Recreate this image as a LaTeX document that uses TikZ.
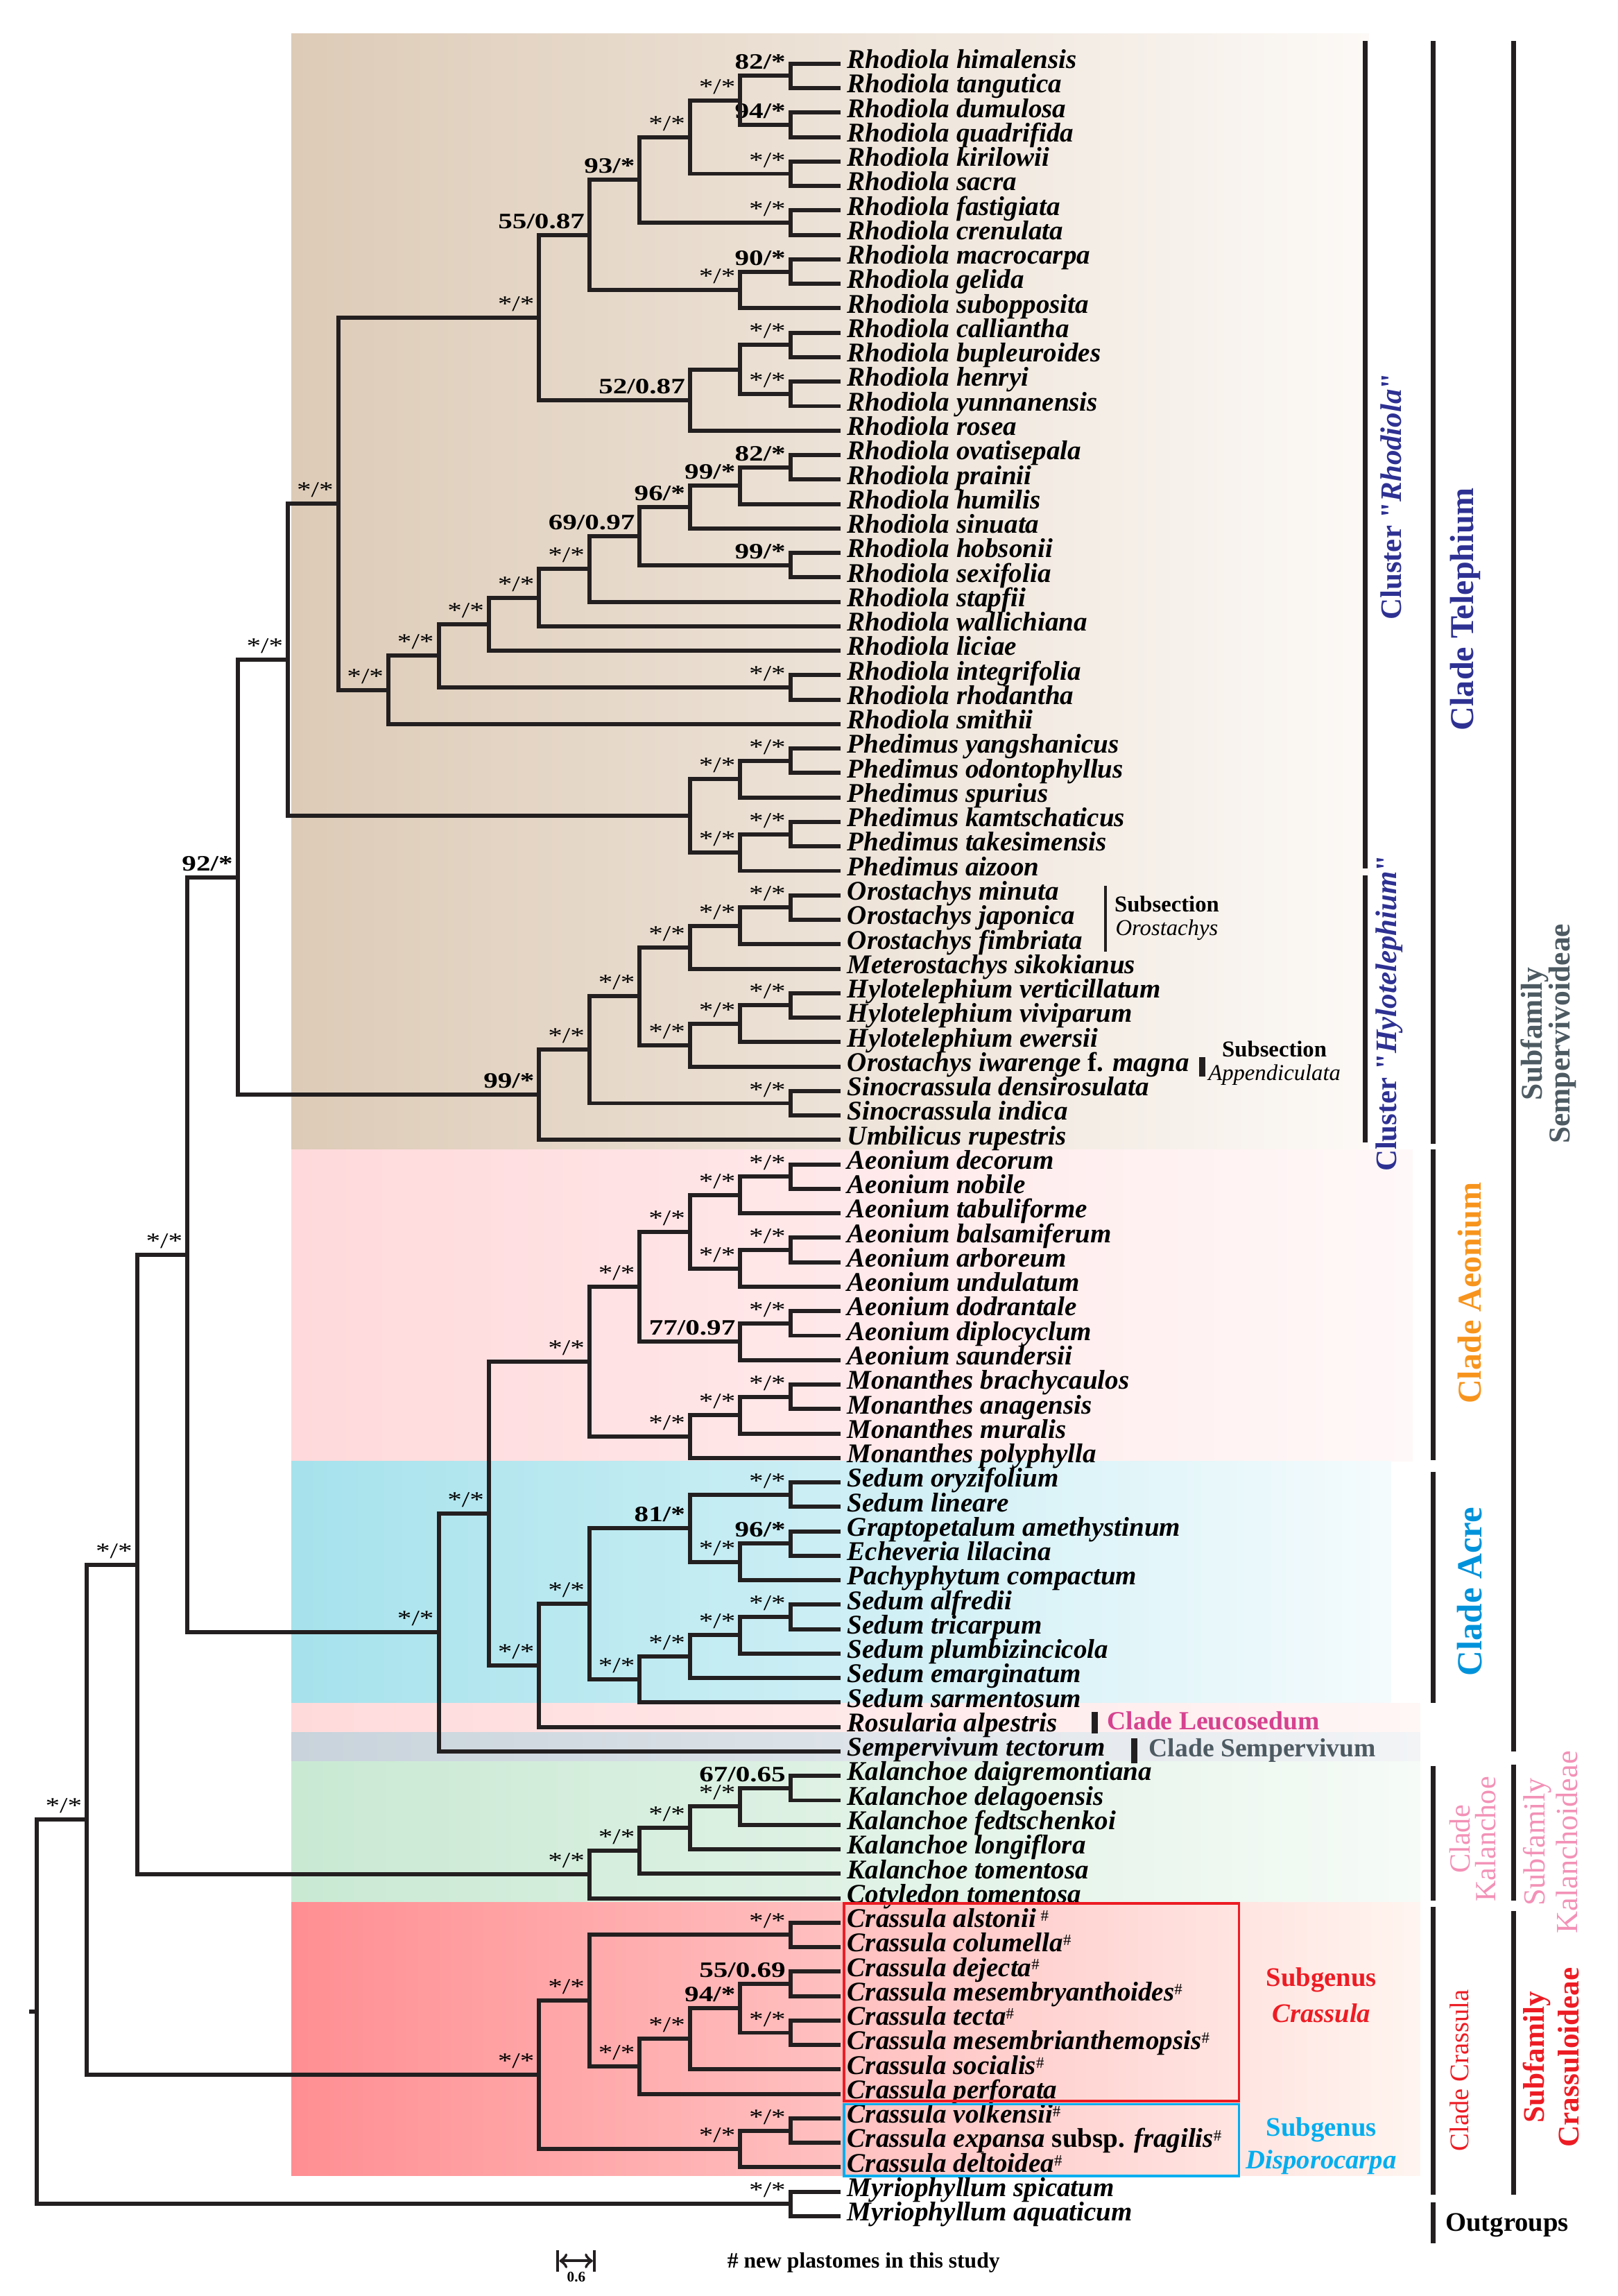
\documentclass[tikz,border=0pt]{standalone}
\usepackage{fontspec}
\setmainfont{Liberation Serif}
\newfontfamily\suppfont[FakeStretch=1.3]{Liberation Serif}
\usetikzlibrary{calc}

\definecolor{treeline}{HTML}{231F20}
\definecolor{telblue}{HTML}{2E3192}
\definecolor{aeoorange}{HTML}{F7941D}
\definecolor{acreblue}{HTML}{0092DA}
\definecolor{leupink}{HTML}{D6428F}
\definecolor{semgray}{HTML}{4D5A62}
\definecolor{kalpink}{HTML}{F391B6}
\definecolor{crared}{HTML}{ED1C24}
\definecolor{dispblue}{HTML}{00AEEF}

\tikzset{
  branch/.style={line width=1.7pt, draw=treeline},
  taxon/.style={anchor=base west, inner sep=0pt, font=\bfseries\itshape\fontsize{11.1}{11}\selectfont},
  supp/.style={anchor=base east, inner sep=0pt, font=\suppfont\fontsize{9}{9}\selectfont},
  bracket/.style={line width=2pt, draw=treeline},
  cladelab/.style={rotate=90, inner sep=0pt, font=\bfseries\fontsize{13.7}{14}\selectfont},
  clusterlab/.style={rotate=90, inner sep=0pt, text=telblue, font=\bfseries\fontsize{12.2}{13}\selectfont},
  famlab/.style={rotate=90, inner sep=0pt, align=center, font=\bfseries\fontsize{12.4}{12.5}\selectfont},
  sidelab/.style={inner sep=0pt, font=\bfseries\fontsize{11}{11}\selectfont},
}

\newcommand{\hash}{\raisebox{2.6pt}{\mdseries\upshape\fontsize{6.5}{6.5}\selectfont\#}}
% leaf: index, name, text
\newcommand{\tx}[3]{%
  \coordinate (#2) at (574.3,{43.5+(#1-1)*16.7045});
  \node[taxon] (#2-n) at (578.5,{46.7+(#1-1)*16.7045}) {#3};}
% clade: name, level, child, child, support
\newcommand{\clade}[5]{%
  \coordinate (tmp) at ($(#3)!0.5!(#4)$);
  \coordinate (#1) at (tmp -| X#2);
  \draw[branch] (#1) |- (#3);
  \draw[branch] (#1) |- (#4);
  \node[supp] (#1-s) at ($(#1)+(-3,-4.5)$) {#5};}

\begin{document}
\begin{tikzpicture}[x=0.21104mm, y=-0.21104mm]
\useasboundingbox (0,0) rectangle (1105,1568);
\fill[white] (0,0) rectangle (1105,1568);

% clade bands
\shade[left color={rgb,255:red,221;green,203;blue,183}, right color={rgb,255:red,252;green,249;blue,246}] (199,23) rectangle (935,785);
\shade[left color={rgb,255:red,255;green,217;blue,219}, right color={rgb,255:red,255;green,248;blue,248}] (199,785) rectangle (965,998);
\shade[left color={rgb,255:red,166;green,226;blue,236}, right color={rgb,255:red,244;green,251;blue,253}] (199,998) rectangle (950,1163);
\shade[left color={rgb,255:red,255;green,218;blue,219}, right color={rgb,255:red,255;green,246;blue,246}] (199,1163) rectangle (970,1183);
\shade[left color={rgb,255:red,200;green,211;blue,219}, right color={rgb,255:red,242;green,244;blue,246}] (199,1183) rectangle (970,1203);
\shade[left color={rgb,255:red,201;green,233;blue,211}, right color={rgb,255:red,246;green,251;blue,247}] (199,1203) rectangle (970,1299);
\shade[left color={rgb,255:red,255;green,142;blue,146}, right color={rgb,255:red,255;green,245;blue,240}] (199,1299) rectangle (970,1486);

% level columns
\foreach \k in {0,...,16}
  \coordinate (X\k) at ({25+34.33*\k},0);

% taxa
\tx{1}{rhim}{Rhodiola himalensis}
\tx{2}{rtan}{Rhodiola tangutica}
\tx{3}{rdum}{Rhodiola dumulosa}
\tx{4}{rqua}{Rhodiola quadrifida}
\tx{5}{rkir}{Rhodiola kirilowii}
\tx{6}{rsac}{Rhodiola sacra}
\tx{7}{rfas}{Rhodiola fastigiata}
\tx{8}{rcre}{Rhodiola crenulata}
\tx{9}{rmac}{Rhodiola macrocarpa}
\tx{10}{rgel}{Rhodiola gelida}
\tx{11}{rsub}{Rhodiola subopposita}
\tx{12}{rcal}{Rhodiola calliantha}
\tx{13}{rbup}{Rhodiola bupleuroides}
\tx{14}{rhen}{Rhodiola henryi}
\tx{15}{ryun}{Rhodiola yunnanensis}
\tx{16}{rros}{Rhodiola rosea}
\tx{17}{rova}{Rhodiola ovatisepala}
\tx{18}{rpra}{Rhodiola prainii}
\tx{19}{rhum}{Rhodiola humilis}
\tx{20}{rsin}{Rhodiola sinuata}
\tx{21}{rhob}{Rhodiola hobsonii}
\tx{22}{rsex}{Rhodiola sexifolia}
\tx{23}{rsta}{Rhodiola stapfii}
\tx{24}{rwal}{Rhodiola wallichiana}
\tx{25}{rlic}{Rhodiola liciae}
\tx{26}{rint}{Rhodiola integrifolia}
\tx{27}{rrho}{Rhodiola rhodantha}
\tx{28}{rsmi}{Rhodiola smithii}
\tx{29}{pyan}{Phedimus yangshanicus}
\tx{30}{podo}{Phedimus odontophyllus}
\tx{31}{pspu}{Phedimus spurius}
\tx{32}{pkam}{Phedimus kamtschaticus}
\tx{33}{ptak}{Phedimus takesimensis}
\tx{34}{paiz}{Phedimus aizoon}
\tx{35}{omin}{Orostachys minuta}
\tx{36}{ojap}{Orostachys japonica}
\tx{37}{ofim}{Orostachys fimbriata}
\tx{38}{msik}{Meterostachys sikokianus}
\tx{39}{hver}{Hylotelephium verticillatum}
\tx{40}{hviv}{Hylotelephium viviparum}
\tx{41}{hewe}{Hylotelephium ewersii}
\tx{42}{oiwa}{Orostachys iwarenge {\upshape f.} magna}
\tx{43}{sden}{Sinocrassula densirosulata}
\tx{44}{sind}{Sinocrassula indica}
\tx{45}{urup}{Umbilicus rupestris}
\tx{46}{adec}{Aeonium decorum}
\tx{47}{anob}{Aeonium nobile}
\tx{48}{atab}{Aeonium tabuliforme}
\tx{49}{abal}{Aeonium balsamiferum}
\tx{50}{aarb}{Aeonium arboreum}
\tx{51}{aund}{Aeonium undulatum}
\tx{52}{adod}{Aeonium dodrantale}
\tx{53}{adip}{Aeonium diplocyclum}
\tx{54}{asau}{Aeonium saundersii}
\tx{55}{mbra}{Monanthes brachycaulos}
\tx{56}{mana}{Monanthes anagensis}
\tx{57}{mmur}{Monanthes muralis}
\tx{58}{mpol}{Monanthes polyphylla}
\tx{59}{sory}{Sedum oryzifolium}
\tx{60}{slin}{Sedum lineare}
\tx{61}{game}{Graptopetalum amethystinum}
\tx{62}{elil}{Echeveria lilacina}
\tx{63}{pcom}{Pachyphytum compactum}
\tx{64}{salf}{Sedum alfredii}
\tx{65}{stri}{Sedum tricarpum}
\tx{66}{splu}{Sedum plumbizincicola}
\tx{67}{sema}{Sedum emarginatum}
\tx{68}{ssar}{Sedum sarmentosum}
\tx{69}{ralp}{Rosularia alpestris}
\tx{70}{stec}{Sempervivum tectorum}
\tx{71}{kdai}{Kalanchoe daigremontiana}
\tx{72}{kdel}{Kalanchoe delagoensis}
\tx{73}{kfed}{Kalanchoe fedtschenkoi}
\tx{74}{klon}{Kalanchoe longiflora}
\tx{75}{ktom}{Kalanchoe tomentosa}
\tx{76}{ctom}{Cotyledon tomentosa}
\tx{77}{cals}{Crassula alstonii\,\hash}
\tx{78}{ccol}{Crassula columella\hash}
\tx{79}{cdej}{Crassula dejecta\hash}
\tx{80}{cmsy}{Crassula mesembryanthoides\hash}
\tx{81}{ctec}{Crassula tecta\hash}
\tx{82}{cmsi}{Crassula mesembrianthemopsis\hash}
\tx{83}{csoc}{Crassula socialis\hash}
\tx{84}{cper}{Crassula perforata}
\tx{85}{cvol}{Crassula volkensii\hash}
\tx{86}{cexp}{Crassula expansa {\upshape subsp.} fragilis\hash}
\tx{87}{cdel}{Crassula deltoidea\hash}
\tx{88}{mspi}{Myriophyllum spicatum}
\tx{89}{maqu}{Myriophyllum aquaticum}

% Rhodiola
\clade{nA}{15}{rhim}{rtan}{\bfseries 82/*}
\clade{nB}{15}{rdum}{rqua}{\bfseries 94/*}
\clade{nC}{14}{nA}{nB}{*/*}
\clade{nD}{15}{rkir}{rsac}{*/*}
\clade{nE}{13}{nC}{nD}{*/*}
\clade{nF}{15}{rfas}{rcre}{*/*}
\clade{nG}{12}{nE}{nF}{\bfseries 93/*}
\clade{nH}{15}{rmac}{rgel}{\bfseries 90/*}
\clade{nI}{14}{nH}{rsub}{*/*}
\clade{nJ}{11}{nG}{nI}{\bfseries 55/0.87}
\clade{nK}{15}{rcal}{rbup}{*/*}
\clade{nL}{15}{rhen}{ryun}{*/*}
\clade{nM}{14}{nK}{nL}{}
\clade{nN}{13}{nM}{rros}{\bfseries 52/0.87}
\clade{nO}{10}{nJ}{nN}{*/*}
\clade{nP}{15}{rova}{rpra}{\bfseries 82/*}
\clade{nQ}{14}{nP}{rhum}{\bfseries 99/*}
\clade{nR}{13}{nQ}{rsin}{\bfseries 96/*}
\clade{nS}{15}{rhob}{rsex}{\bfseries 99/*}
\clade{nT}{12}{nR}{nS}{\bfseries 69/0.97}
\clade{nU}{11}{nT}{rsta}{*/*}
\clade{nV}{10}{nU}{rwal}{*/*}
\clade{nW}{9}{nV}{rlic}{*/*}
\clade{nX}{15}{rint}{rrho}{*/*}
\clade{nY}{8}{nW}{nX}{*/*}
\clade{nZ}{7}{nY}{rsmi}{*/*}
\clade{rhod}{6}{nO}{nZ}{*/*}
% Phedimus
\clade{pA}{15}{pyan}{podo}{*/*}
\clade{pB}{14}{pA}{pspu}{*/*}
\clade{pC}{15}{pkam}{ptak}{*/*}
\clade{pD}{14}{pC}{paiz}{*/*}
\clade{phed}{13}{pB}{pD}{}
\clade{tA}{5}{rhod}{phed}{*/*}
% Hylotelephium
\clade{hA}{15}{omin}{ojap}{*/*}
\clade{hB}{14}{hA}{ofim}{*/*}
\clade{hC}{13}{hB}{msik}{*/*}
\clade{hD}{15}{hver}{hviv}{*/*}
\clade{hE}{14}{hD}{hewe}{*/*}
\clade{hF}{13}{hE}{oiwa}{*/*}
\clade{hG}{12}{hC}{hF}{*/*}
\clade{hH}{15}{sden}{sind}{*/*}
\clade{hI}{11}{hG}{hH}{*/*}
\clade{hyl}{10}{hI}{urup}{\bfseries 99/*}
\clade{tel}{4}{tA}{hyl}{\bfseries 92/*}
% Aeonium
\clade{aA}{15}{adec}{anob}{*/*}
\clade{aB}{14}{aA}{atab}{*/*}
\clade{aC}{15}{abal}{aarb}{*/*}
\clade{aD}{14}{aC}{aund}{*/*}
\clade{aE}{13}{aB}{aD}{*/*}
\clade{aF}{15}{adod}{adip}{*/*}
\clade{aG}{14}{aF}{asau}{\bfseries 77/0.97}
\clade{aH}{12}{aE}{aG}{*/*}
\clade{mA}{15}{mbra}{mana}{*/*}
\clade{mB}{14}{mA}{mmur}{*/*}
\clade{mC}{13}{mB}{mpol}{*/*}
\clade{aeo}{11}{aH}{mC}{*/*}
% Acre
\clade{sA}{15}{sory}{slin}{*/*}
\clade{sB}{15}{game}{elil}{\bfseries 96/*}
\clade{sC}{14}{sB}{pcom}{*/*}
\clade{sD}{13}{sA}{sC}{\bfseries 81/*}
\clade{sE}{15}{salf}{stri}{*/*}
\clade{sF}{14}{sE}{splu}{*/*}
\clade{sG}{13}{sF}{sema}{*/*}
\clade{sH}{12}{sG}{ssar}{*/*}
\clade{acr}{11}{sD}{sH}{*/*}
\clade{leu}{10}{acr}{ralp}{*/*}
\clade{aes}{9}{aeo}{leu}{*/*}
\clade{sem}{8}{aes}{stec}{*/*}
\clade{nA3}{3}{tel}{sem}{*/*}
% Kalanchoe
\clade{kA}{15}{kdai}{kdel}{\bfseries 67/0.65}
\clade{kB}{14}{kA}{kfed}{*/*}
\clade{kC}{13}{kB}{klon}{*/*}
\clade{kD}{12}{kC}{ktom}{*/*}
\clade{kal}{11}{kD}{ctom}{*/*}
\clade{nA2}{2}{nA3}{kal}{*/*}
% Crassula
\clade{cA}{15}{cals}{ccol}{*/*}
\clade{cB}{15}{cdej}{cmsy}{\bfseries 55/0.69}
\clade{cC}{15}{ctec}{cmsi}{*/*}
\clade{cD}{14}{cB}{cC}{\bfseries 94/*}
\clade{cE}{13}{cD}{csoc}{*/*}
\clade{cF}{12}{cE}{cper}{*/*}
\clade{cG}{11}{cA}{cF}{*/*}
\clade{dA}{15}{cvol}{cexp}{*/*}
\clade{dB}{14}{dA}{cdel}{*/*}
\clade{cra}{10}{cG}{dB}{*/*}
\clade{nA1}{1}{nA2}{cra}{*/*}
% outgroup and root
\clade{out}{15}{mspi}{maqu}{*/*}
\clade{root}{0}{nA1}{out}{}
\coordinate (rootstub) at ($(root)+(-5,0)$);
\draw[branch] (rootstub) -- (root);

% subgenus boxes
\draw[crared, line width=1.1pt] (576.3,1300) rectangle (846.3,1435);
\draw[dispblue, line width=1.1pt] (576.3,1437) rectangle (846.3,1486);
\node[sidelab, anchor=base, text=crared] (sgc1) at (902.5,1356.5) {Subgenus};
\node[sidelab, anchor=base, text=crared] (sgc2) at (902.5,1381) {\itshape Crassula};
\node[sidelab, anchor=base, text=dispblue] (sgd1) at (902.5,1459) {Subgenus};
\node[sidelab, anchor=base, text=dispblue] (sgd2) at (902.5,1481) {\itshape Disporocarpa};

% subsections
\draw[treeline, line width=1.3pt] (755,605) -- (755,650);
\node[inner sep=0pt, align=center, font=\fontsize{9.3}{9.8}\selectfont] (ssoro) at (797,627) {\textbf{Subsection}\\\textit{Orostachys}};
\draw[treeline, line width=2.5pt] (821,722) -- (821,735);
\node[inner sep=0pt, align=center, font=\fontsize{9.3}{9.8}\selectfont] (ssapp) at (870.5,726) {\textbf{Subsection}\\\textit{Appendiculata}};

% small clades
\draw[treeline, line width=2.5pt] (747.6,1169) -- (747.6,1184);
\node[sidelab, anchor=base west, text=leupink, font=\bfseries\fontsize{10.7}{10.7}\selectfont] (cleu) at (756,1181) {Clade Leucosedum};
\draw[treeline, line width=2.5pt] (774.8,1187) -- (774.8,1204);
\node[sidelab, anchor=base west, text=semgray, font=\bfseries\fontsize{10.7}{10.7}\selectfont] (csem) at (784.5,1199.5) {Clade Sempervivum};

% clusters and clades
\draw[bracket] (932.5,28) -- (932.5,593);
\node[clusterlab] (clrho) at (950,339) {Cluster \textquotedbl\textit{Rhodiola}\textquotedbl};
\draw[bracket] (932.5,598) -- (932.5,780);
\node[clusterlab] (clhyl) at (949,692) {Cluster \textquotedbl\textit{Hylotelephium}\textquotedbl};
\draw[bracket] (979,28) -- (979,781);
\node[cladelab, text=telblue] (cdtel) at (1001,416) {Clade Telephium};
\draw[bracket] (979,785) -- (979,997);
\node[cladelab, text=aeoorange] (cdaeo) at (1004,883) {Clade Aeonium};
\draw[bracket] (979,1005) -- (979,1163);
\node[cladelab, text=acreblue, font=\bfseries\fontsize{14.5}{15}\selectfont] (cdacr) at (1004,1087) {Clade Acre};
\draw[bracket] (979,1206) -- (979,1298);
\node[rotate=90, inner sep=0pt, align=center, text=kalpink, font=\fontsize{12}{10.5}\selectfont] (cdkal) at (1006,1256) {Clade\\Kalanchoe};
\draw[bracket] (979,1302) -- (979,1499);
\node[rotate=90, inner sep=0pt, text=crared, font=\fontsize{11}{11}\selectfont] (cdcra) at (997,1414) {Clade Crassula};
\draw[bracket] (979,1504) -- (979,1532);
\node[sidelab, anchor=west] (outg) at (987,1519.5) {Outgroups};

% subfamilies
\draw[bracket] (1034,28) -- (1034,1196);
\node[famlab, text=semgray, font=\bfseries\fontsize{12.4}{11.4}\selectfont] (sfsem) at (1057.5,706) {Subfamily\\Sempervivoideae};
\draw[bracket] (1034,1205) -- (1034,1298);
\node[famlab, text=kalpink, font=\fontsize{12.6}{13.2}\selectfont] (sfkal) at (1059,1258) {Subfamily\\Kalanchoideae};
\draw[bracket] (1034,1305) -- (1034,1499);
\node[famlab, text=crared, font=\bfseries\fontsize{12.3}{14}\selectfont] (sfcra) at (1059.5,1405) {Subfamily\\Crassuloideae};

% scale bar and note
\coordinate (sbl) at (380,1544);
\coordinate (sbr) at (407,1544);
\draw[|<->|, line width=1.2pt, treeline] (sbl) -- (sbr);
\node[inner sep=0pt, font=\bfseries\fontsize{6}{6}\selectfont] (sbt) at (393.6,1555) {0.6};
\node[inner sep=0pt, anchor=base west, font=\bfseries\fontsize{9}{9}\selectfont] (note) at (496.5,1549) {\# new plastomes in this study};
\end{tikzpicture}
\end{document}
